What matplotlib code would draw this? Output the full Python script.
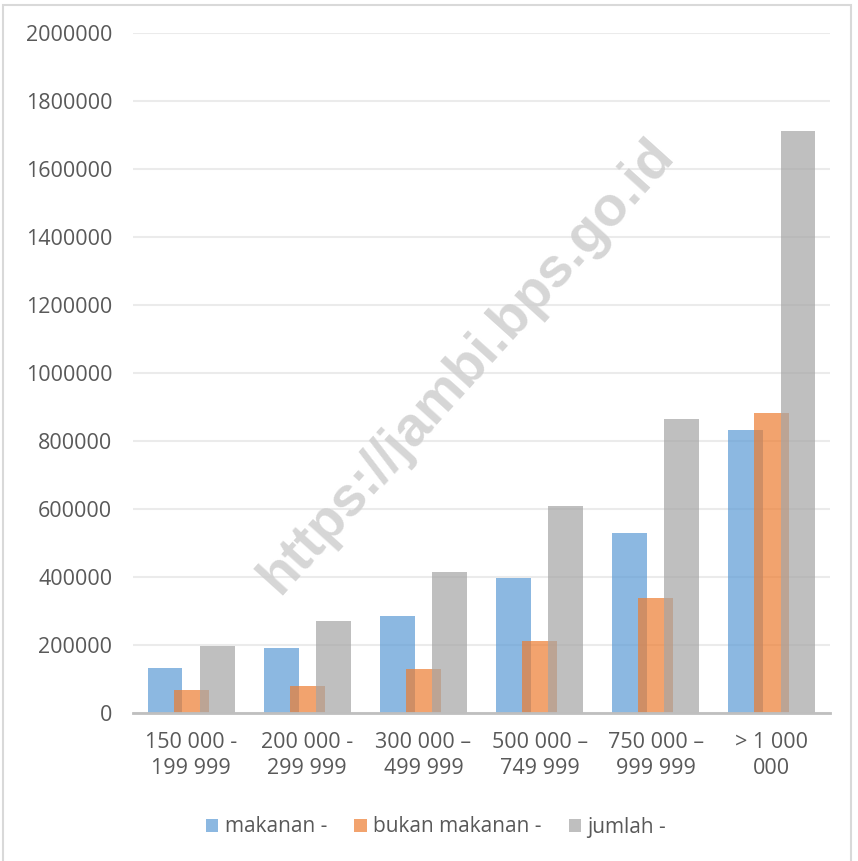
import matplotlib.pyplot as plt
from matplotlib.patches import Rectangle
import numpy as np

# golongan pengeluaran per kapita sebulan
categories = ["150 000 -\n199 999", "200 000 -\n299 999", "300 000 \u2013\n499 999",
              "500 000 \u2013\n749 999", "750 000 \u2013\n999 999", "> 1 000\n000"]
makanan = [132000, 191000, 285000, 397000, 529000, 832000]
bukan_makanan = [68000, 79000, 129000, 212000, 338000, 882000]
jumlah = [197000, 270000, 415000, 609000, 865000, 1712000]
series_names = ["makanan -", "bukan makanan -", "jumlah -"]
colors = ["#5B9BD5", "#ED7D31", "#A5A5A5"]
yticks = list(range(0, 2000001, 200000))

TXT = "#595959"
plt.rcParams["font.family"] = ["Open Sans", "DejaVu Sans"]

fig = plt.figure(figsize=(8.58, 8.61), dpi=100)
ax = fig.add_axes([133 / 858, 1 - 713 / 861, 697 / 858, 680 / 861])

x = np.arange(len(categories))
width = 0.30
offset = 0.225
for i, (vals, name, c) in enumerate(zip([makanan, bukan_makanan, jumlah], series_names, colors)):
    ax.bar(x + (i - 1) * offset, vals, width, color=c, alpha=0.7, label=name, zorder=2 + i)

ax.set_xlim(-0.5, len(categories) - 0.5)
ax.set_ylim(0, 2000000)
ax.set_yticks(yticks)
ax.set_yticklabels([str(v) for v in yticks])
ax.set_xticks(x)
ax.set_xticklabels(categories, linespacing=1.3)
ax.tick_params(axis="both", length=0, labelsize=15.5, colors=TXT)
ax.tick_params(axis="y", pad=15)
ax.tick_params(axis="x", pad=14)
ax.grid(axis="y", color="#EBEBEB", linewidth=1.5, zorder=0)
ax.set_axisbelow(True)
for s in ("top", "right", "left"):
    ax.spines[s].set_visible(False)
ax.spines["bottom"].set_color("#BFBFBF")
ax.spines["bottom"].set_linewidth(2)
ax.spines["bottom"].set_zorder(10)

# watermark
fig.text(467 / 858, 1 - 367 / 861, "https://jambi.bps.go.id", rotation=48,
         rotation_mode="anchor", fontsize=40, fontweight="bold",
         family="Liberation Sans", color="#CFCFCF", alpha=0.85,
         ha="center", va="center", zorder=20)

fig.legend(loc="center", bbox_to_anchor=(436 / 858, 1 - 827 / 861), ncol=3,
           frameon=False, fontsize=15, labelcolor=TXT, handlelength=0.6,
           handleheight=0.6, handletextpad=0.3, columnspacing=1.3)

# chart frame
fig.patches.append(Rectangle((3 / 858, -0.01), 848 / 858, 1 - 5 / 861 + 0.01,
                             transform=fig.transFigure, fill=False,
                             edgecolor="#D9D9D9", linewidth=1.5))

fig.savefig("out.png", dpi=100)
